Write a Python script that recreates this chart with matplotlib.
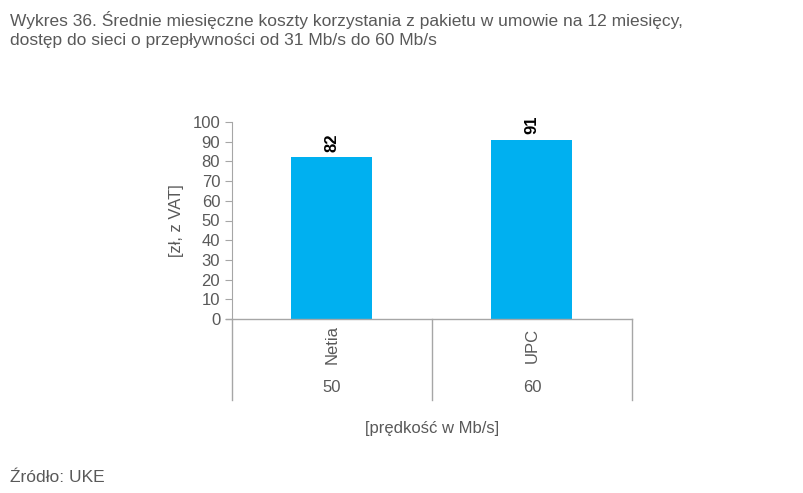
import matplotlib
matplotlib.use("Agg")
import matplotlib.pyplot as plt
from matplotlib.lines import Line2D

operators = ["Netia", "UPC"]
speeds = ["50", "60"]
costs = [82, 91]
yticks = list(range(0, 101, 10))

W, H = 804, 493
fig = plt.figure(figsize=(W/100, H/100), dpi=100)
plt.rcParams['font.family'] = ['Liberation Sans', 'DejaVu Sans']
gray = "#595959"
lg = "#A6A6A6"

ax = fig.add_axes([232/W, 1-319/H, 400/W, 197/H])
x = list(range(len(operators)))
ax.bar(x, costs, width=0.405, color="#00B0F0")
ax.set_xlim(-0.5, len(operators)-0.5)
ax.set_ylim(0, 100)
ax.set_yticks(yticks)
ax.tick_params(axis='y', colors=gray, labelsize=12, length=5, direction='out', color=lg)
ax.tick_params(axis='y', labelcolor=gray)
ax.set_xticks([])
for s in ['top', 'right']:
    ax.spines[s].set_visible(False)
ax.spines['left'].set_color(lg)
ax.spines['bottom'].set_visible(False)
ax.set_ylabel("[zł, z VAT]", color=gray, fontsize=12, labelpad=6)
for xi, v in zip(x, costs):
    ax.text(xi, v + 3, str(v), rotation=90, ha='center', va='bottom',
            fontsize=12, fontweight='bold', color='black')

# category table lines below axis
fig.add_artist(Line2D([226/W, 632/W], [1-319/H]*2, color=lg, lw=1))
for px in [232, 432, 632]:
    fig.add_artist(Line2D([px/W]*2, [1-319/H, 1-400/H], color=lg, lw=1))
for i, (op, sp) in enumerate(zip(operators, speeds)):
    cx = (332 + 200*i)/W
    fig.text(cx, 1-345/H, op, rotation=90, ha='center', va='center', fontsize=12, color=gray)
    fig.text(cx, 1-387/H, sp, ha='center', va='center', fontsize=12, color=gray)
fig.text(432/W, 1-428/H, "[prędkość w Mb/s]", ha='center', va='center', fontsize=12, color=gray)

fig.text(10/W, 1-20/H, "Wykres 36. Średnie miesięczne koszty korzystania z pakietu w umowie na 12 miesięcy,",
         ha='left', va='center', fontsize=12.5, color=gray)
fig.text(10/W, 1-40/H, "dostęp do sieci o przepływności od 31 Mb/s do 60 Mb/s",
         ha='left', va='center', fontsize=12.5, color=gray)
fig.text(10/W, 1-478/H, "Źródło: UKE", ha='left', va='center', fontsize=12.5, color=gray)

fig.savefig("out.png", dpi=100)
